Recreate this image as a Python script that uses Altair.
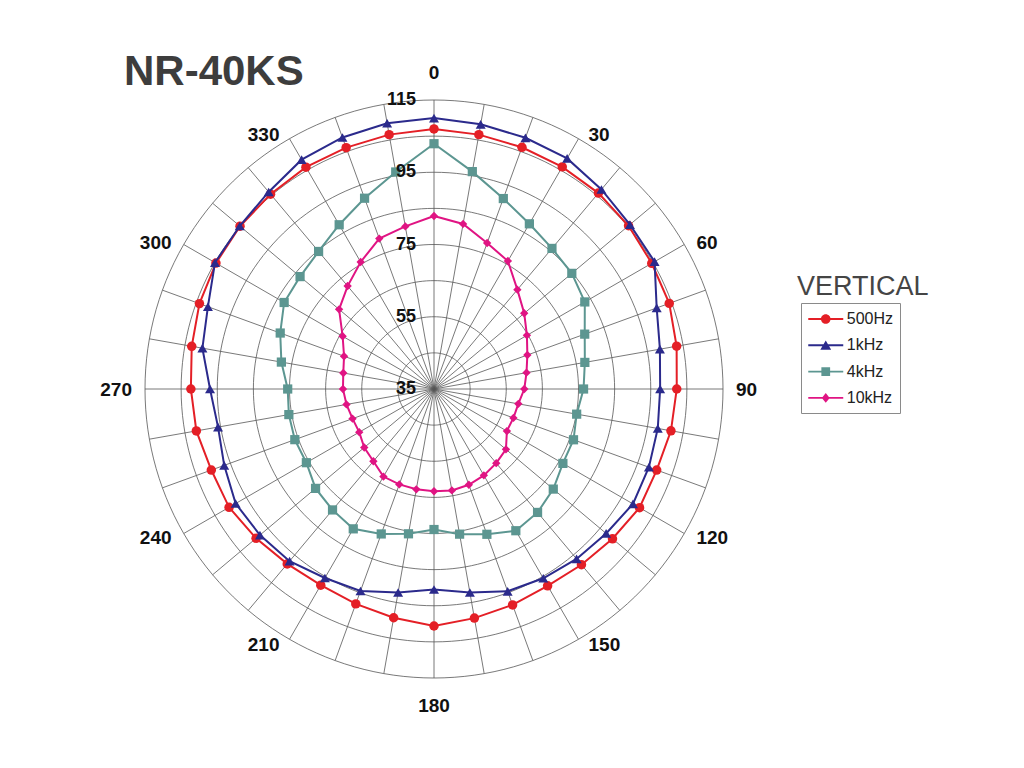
import altair as alt
import pandas as pd

# ---------------- data ----------------
angles = list(range(0, 360, 10))
db_500hz = [107.0, 106.5, 106.2, 106.0, 105.8, 105.3, 104.6, 104.3, 103.2, 102.2,
            101.6, 100.6, 100.7, 99.5, 98.5, 97.9, 98.6, 99.4, 100.6, 99.3,
            98.3, 97.7, 98.2, 99.3, 100.5, 100.6, 101.8, 102.3, 103.1, 104.1,
            104.7, 105.1, 105.4, 105.9, 106.1, 106.5]
db_1khz = [110.0, 109.4, 109.0, 108.7, 107.1, 105.8, 105.5, 100.6, 98.5, 97.6,
           97.9, 98.3, 98.6, 97.2, 96.4, 95.5, 94.6, 92.2, 90.5, 92.2,
           94.5, 95.4, 97.2, 97.9, 98.4, 96.8, 95.7, 97.0, 100.1, 101.6,
           105.0, 105.2, 106.2, 108.3, 109.1, 109.7]
db_4khz = [102.9, 96.1, 91.1, 87.8, 85.8, 84.8, 83.2, 79.4, 77.4, 76.4,
           75.1, 76.1, 76.2, 78.1, 79.6, 80.3, 77.8, 75.8, 73.9, 75.7,
           77.7, 79.7, 78.7, 77.8, 75.8, 76.0, 75.8, 75.5, 77.9, 80.3,
           82.9, 83.4, 84.7, 87.5, 91.2, 96.0]
db_10khz = [82.9, 81.4, 78.0, 75.9, 70.9, 67.6, 64.7, 62.5, 61.0, 60.0,
            58.7, 58.4, 58.3, 61.0, 61.8, 62.6, 63.2, 63.5, 63.3, 63.2,
            63.1, 63.0, 61.1, 60.2, 58.9, 59.0, 59.6, 60.2, 60.5, 61.5,
            64.2, 69.3, 72.2, 75.6, 79.3, 80.7]

series_names = ["500Hz", "1kHz", "4kHz", "10kHz"]
series_values = [db_500hz, db_1khz, db_4khz, db_10khz]
series_colors = ["#e41f26", "#2b2a8c", "#5c9691", "#e01483"]
series_shapes = ["circle", "triangle-up", "square", "diamond"]
series_sizes = [90, 100, 85, 70]

ring_levels = [45, 55, 65, 75, 85, 95, 105, 115]
spoke_angles = list(range(0, 360, 10))
angle_labels = list(range(0, 360, 30))
radial_labels = [35, 55, 75, 95, 115]
DB_MIN = 35
DB_MAX = 115

title_text = "NR-40KS"
legend_title = "VERTICAL"

# ---------------- layout constants ----------------
W, H = 1000, 740
CX, CY = 426, 381            # centre of the polar plot in plot pixels
K = 289 / (DB_MAX - DB_MIN)  # pixels per dB
ANCHOR_R = 295 / K           # anchor radius of angle labels (dB units)
FONT = "Liberation Sans"
GRID = "#575757"

xdom = [-CX / K, (W - CX) / K]
ydom = [-(H - CY) / K, CY / K]
xs = alt.Scale(domain=xdom, nice=False, zero=False)
ys = alt.Scale(domain=ydom, nice=False, zero=False)

# ---------------- frames ----------------
rows = []
for name, vals in zip(series_names, series_values):
    for a, v in zip(angles, vals):
        rows.append({"series": name, "angle": a, "db": v})
    rows.append({"series": name, "angle": 360, "db": vals[0]})
curve_df = pd.DataFrame(rows)

ring_rows = []
for lv in ring_levels:
    for a in range(0, 362, 2):
        ring_rows.append({"level": lv, "angle": a})
ring_df = pd.DataFrame(ring_rows)

spoke_df = pd.DataFrame({"angle": spoke_angles})
alabel_df = pd.DataFrame({"angle": angle_labels, "label": [str(a) for a in angle_labels]})
rlabel_df = pd.DataFrame({"db": radial_labels, "label": [str(v) for v in radial_labels]})
legend_df = pd.DataFrame({"series": series_names})

X = alt.X("x:Q", scale=xs, axis=None)
Y = alt.Y("y:Q", scale=ys, axis=None)

# ---------------- grid ----------------
rings = alt.Chart(ring_df).transform_calculate(
    x=f"(datum.level - {DB_MIN}) * sin(datum.angle * PI / 180)",
    y=f"(datum.level - {DB_MIN}) * cos(datum.angle * PI / 180)",
).mark_line(color=GRID, strokeWidth=0.8).encode(
    x=X, y=Y, detail="level:N", order="angle:Q"
)

spokes = alt.Chart(spoke_df).transform_calculate(
    x="0", y="0",
    x2=f"{DB_MAX - DB_MIN} * sin(datum.angle * PI / 180)",
    y2=f"{DB_MAX - DB_MIN} * cos(datum.angle * PI / 180)",
).mark_rule(color=GRID, strokeWidth=0.8).encode(
    x=X, y=Y, x2="x2:Q", y2="y2:Q"
)

# ---------------- series ----------------
layers = [rings, spokes]
for name, color, shape, size in zip(series_names, series_colors, series_shapes, series_sizes):
    base = alt.Chart(curve_df).transform_filter(
        alt.datum.series == name
    ).transform_calculate(
        x=f"(datum.db - {DB_MIN}) * sin(datum.angle * PI / 180)",
        y=f"(datum.db - {DB_MIN}) * cos(datum.angle * PI / 180)",
    )
    line = base.mark_line(color=color, strokeWidth=2).encode(x=X, y=Y, order="angle:Q")
    pts = base.transform_filter(alt.datum.angle < 360).mark_point(
        shape=shape, filled=True, color=color, size=size, opacity=1
    ).encode(x=X, y=Y)
    layers += [line, pts]

# ---------------- angle labels (placed outside the rim, Excel-like) ----------------
albase = alt.Chart(alabel_df).transform_calculate(
    x=f"{ANCHOR_R} * sin(datum.angle * PI / 180)",
    y=f"{ANCHOR_R} * cos(datum.angle * PI / 180)",
)
lab_style = dict(font=FONT, fontSize=19, fontWeight="bold", color="#111111")
al_right = albase.transform_filter(
    (alt.datum.angle > 0) & (alt.datum.angle < 180)
).mark_text(align="left", baseline="middle", dx=7, dy=1, **lab_style).encode(x=X, y=Y, text="label:N")
al_left = albase.transform_filter(
    alt.datum.angle > 180
).mark_text(align="right", baseline="middle", dx=-7, dy=1, **lab_style).encode(x=X, y=Y, text="label:N")
al_top = albase.transform_filter(
    alt.datum.angle == 0
).mark_text(align="center", baseline="middle", dy=-21, **lab_style).encode(x=X, y=Y, text="label:N")
al_bottom = albase.transform_filter(
    alt.datum.angle == 180
).mark_text(align="center", baseline="middle", dy=22, **lab_style).encode(x=X, y=Y, text="label:N")

rlabels = alt.Chart(rlabel_df).transform_calculate(
    x=f"{-18 / K}",
    y=f"datum.db - {DB_MIN}",
).mark_text(font=FONT, fontSize=18, fontWeight="bold", color="#111111",
            align="right", baseline="middle").encode(x=X, y=Y, text="label:N")

title = alt.Chart(pd.DataFrame({"t": [title_text]})).mark_text(
    font=FONT, fontSize=42, fontWeight="bold", color="#3d3d3d",
    align="left", baseline="alphabetic"
).encode(x=alt.value(116), y=alt.value(77), text="t:N")

ltitle = alt.Chart(pd.DataFrame({"t": [legend_title]})).mark_text(
    font=FONT, fontSize=27, color="#454545", align="left", baseline="alphabetic"
).encode(x=alt.value(789), y=alt.value(287), text="t:N")

# ---------------- legend (line + marker symbols) ----------------
bar = "M-2,-0.11H2V0.11H-2Z"
legend_paths = [
    bar + "M0.55,0A0.55,0.55,0,1,1,-0.55,0A0.55,0.55,0,1,1,0.55,0Z",
    bar + "M0,-0.55L0.62,0.5L-0.62,0.5Z",
    bar + "M-0.5,-0.5H0.5V0.5H-0.5Z",
    bar + "M0,-0.55L0.45,0L0,0.55L-0.45,0Z",
]
leg = alt.Legend(
    orient="none", legendX=793, legendY=295, title=None,
    strokeColor="#8a8a8a", padding=7, symbolSize=306, symbolOffset=8.75,
    labelOffset=12, rowPadding=9.3, labelFont=FONT, labelFontSize=16,
    labelColor="#222222", symbolStrokeWidth=0, symbolOpacity=1,
)
legend_layer = alt.Chart(legend_df).mark_point(filled=True, size=306).encode(
    x=alt.value(-80), y=alt.value(-80),
    color=alt.Color("series:N", scale=alt.Scale(domain=series_names, range=series_colors), legend=leg),
    shape=alt.Shape("series:N", scale=alt.Scale(domain=series_names, range=legend_paths), legend=leg),
)

layers += [al_right, al_left, al_top, al_bottom, rlabels, title, ltitle, legend_layer]

chart = alt.layer(*layers).properties(
    width=W, height=H, padding=0,
    autosize=alt.AutoSizeParams(type="none"),
    background="white",
).configure_view(stroke=None)

chart.save("out.html", embed_options={"renderer": "svg", "actions": False})
